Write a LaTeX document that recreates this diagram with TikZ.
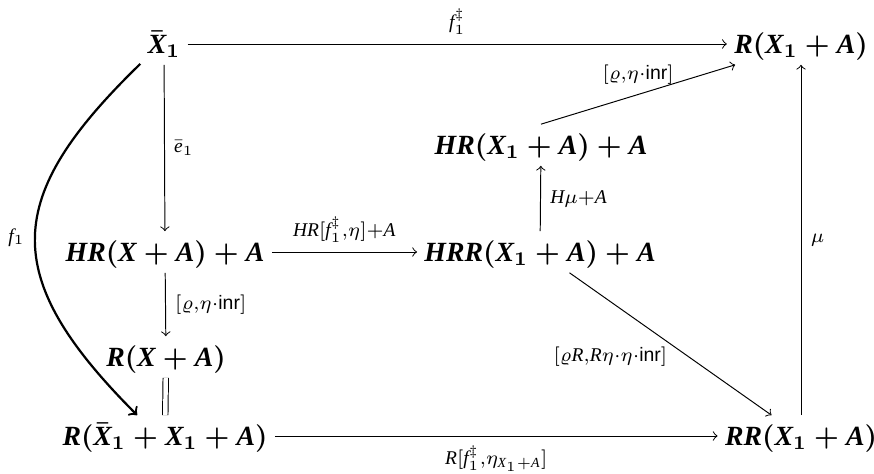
\documentclass[tikz,border=0pt]{standalone}
\usepackage{amsmath}
\usepackage{fontspec}
\setmainfont{Liberation Serif}
\setsansfont{Liberation Sans}

\begin{document}
\begin{tikzpicture}[x=36pt,y=36pt,line width=0.35pt,
	obj/.style={font=\boldmath, text height=1.8ex, text depth=0.3ex, inner sep=2.5pt},
	lab/.style={execute at begin node=$\scriptstyle, execute at end node=$}]
	\useasboundingbox (0,0) rectangle (8.74,4.74);
	% objects
	\node[obj] (Xb1) at (1.64,4.30) {$\bar{\mathit{X}}_1$};
	\node[obj] (RX1A) at (8.01,4.30) {$\mathit{R}(\mathit{X}_1+\mathit{A})$};
	\node[obj] (HRX1A) at (5.41,3.29) {$\mathit{HR}(\mathit{X}_1+\mathit{A})+\mathit{A}$};
	\node[obj] (HRXA) at (1.65,2.22) {$\mathit{HR}(\mathit{X}+\mathit{A})+\mathit{A}$};
	\node[obj] (HRRX1A) at (5.40,2.22) {$\mathit{HRR}(\mathit{X}_1+\mathit{A})+\mathit{A}$};
	\node[obj] (RXA) at (1.66,1.17) {$\mathit{R}(\mathit{X}+\mathit{A})$};
	\node[obj] (RXb) at (1.65,0.38) {$\mathit{R}(\bar{\mathit{X}}_1+\mathit{X}_1+\mathit{A})$};
	\node[obj] (RRX1A) at (8.01,0.38) {$\mathit{RR}(\mathit{X}_1+\mathit{A})$};
	% arrows
	\draw[->] (Xb1) -- (RX1A) node[lab,midway,above] {\mathit{f}_1^{\ddagger}};
	\draw[->] (Xb1) -- (HRXA) node[lab,midway,right] {\bar{\mathit{e}}_1};
	\draw[->] (HRXA) -- (HRRX1A) node[lab,midway,above] {\mathit{HR}[\mathit{f}_1^{\ddagger},\eta]+\mathit{A}};
	\draw[->] (HRRX1A) -- (HRX1A) node[lab,midway,right] {\mathit{H}\mu+\mathit{A}};
	\draw[->] (HRX1A.north) -- ([xshift=3pt]RX1A.south west) node[lab,midway,above] {[\varrho,\eta\cdot\mathsf{inr}]};
	\draw[->] (RRX1A) -- (RX1A) node[lab,midway,right] {\mu};
	\draw[->] (HRXA) -- (RXA) node[lab,midway,right] {[\varrho,\eta\cdot\mathsf{inr}]};
	\draw[double,double distance=1.6pt] (RXA) -- (RXb);
	\draw[->] (RXb) -- (RRX1A) node[lab,midway,below] {\mathit{R}[\mathit{f}_1^{\ddagger},\eta_{\mathit{X}_1+\mathit{A}}]};
	\draw[->] (HRRX1A) -- (RRX1A) node[lab,midway,below left,inner sep=1pt] {[\varrho \mathit{R},\mathit{R}\eta\cdot\eta\cdot\mathsf{inr}]};
	% the bent arrow
	\coordinate (f1end) at ([xshift=-10pt]RXb.north);
	\draw[->,line width=0.8pt] (Xb1.-140) .. controls (0.03,2.77) and (-0.02,1.98) .. (f1end) node[lab,midway,left] {\mathit{f}_1};
\end{tikzpicture}
\end{document}
